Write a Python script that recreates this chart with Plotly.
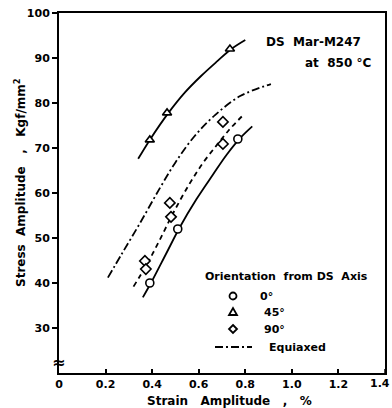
import plotly.graph_objects as go

# ---- data ----
# 0 deg (circles)
circ_strain = [0.39, 0.51, 0.768]
circ_stress = [40.0, 52.0, 72.0]
circ_fit_strain = [0.36, 0.40, 0.46, 0.52, 0.59, 0.66, 0.72, 0.78, 0.83]
circ_fit_stress = [36.8, 40.5, 46.5, 52.5, 58.6, 64.0, 68.5, 72.3, 74.8]

# 45 deg (triangles)
tri_strain = [0.39, 0.464, 0.734]
tri_stress = [71.8, 77.8, 92.0]
tri_fit_strain = [0.34, 0.39, 0.47, 0.54, 0.61, 0.68, 0.74, 0.80]
tri_fit_stress = [67.6, 71.8, 77.8, 82.3, 86.0, 89.3, 92.0, 94.0]

# 90 deg (diamonds)
dia_strain = [0.369, 0.373, 0.476, 0.481, 0.704, 0.704]
dia_stress = [44.9, 43.1, 57.8, 54.7, 75.8, 70.9]
dia_fit_strain = [0.32, 0.38, 0.43, 0.49, 0.56, 0.62, 0.68, 0.73, 0.785]
dia_fit_stress = [39.2, 44.4, 49.3, 55.5, 62.0, 66.8, 70.8, 74.0, 77.0]

# Equiaxed (dash-dot curve)
eq_strain = [0.21, 0.27, 0.35, 0.43, 0.50, 0.58, 0.67, 0.78, 0.91]
eq_stress = [41.2, 46.5, 53.5, 60.8, 66.8, 72.5, 77.3, 81.6, 84.2]

x_tickvals = [0, 0.2, 0.4, 0.6, 0.8, 1.0, 1.2]
x_ticktext = ["0", "0.2", "0.4", "0.6", "0.8", "1.0", "1.2"]
x_last_tick = 1.4
x_last_label = "1.4"
y_tickvals = [30, 40, 50, 60, 70, 80, 90, 100]
y_ticktext = ["30", "40", "50", "60", "70", "80", "90", "100"]

legend_labels = ["0°", "45°", "90°", "Equiaxed"]

# ---- figure ----
W, H = 392, 408
L, R, T, B = 59, 7, 13, 35
PW, PH = W - L - R, H - T - B

def px(xp):
    return (xp - L) / PW

def py(yp):
    return (H - B - yp) / PH

FONT = dict(family="DejaVu Sans", size=11, color="black", weight="bold")
FONT12 = dict(family="DejaVu Sans", size=12, color="black", weight="bold")
DASHDOT = "8px,3px,2px,3px"
NB = "\u00a0"

fig = go.Figure()

fig.add_trace(go.Scatter(x=eq_strain, y=eq_stress, mode="lines", line_shape="spline",
                         line=dict(color="black", width=1.8, dash=DASHDOT), showlegend=False))
fig.add_trace(go.Scatter(x=dia_fit_strain, y=dia_fit_stress, mode="lines", line_shape="spline",
                         line=dict(color="black", width=1.8, dash="5px,4px"), showlegend=False))
fig.add_trace(go.Scatter(x=circ_fit_strain, y=circ_fit_stress, mode="lines", line_shape="spline",
                         line=dict(color="black", width=1.8), showlegend=False))
fig.add_trace(go.Scatter(x=tri_fit_strain, y=tri_fit_stress, mode="lines", line_shape="spline",
                         line=dict(color="black", width=1.8), showlegend=False))

mk = dict(color="white", size=8, line=dict(color="black", width=1.6))
fig.add_trace(go.Scatter(x=circ_strain, y=circ_stress, mode="markers",
                         marker=dict(symbol="circle", **mk), showlegend=False))
fig.add_trace(go.Scatter(x=tri_strain, y=tri_stress, mode="markers",
                         marker=dict(symbol="triangle-up", **mk), showlegend=False))
fig.add_trace(go.Scatter(x=dia_strain, y=dia_stress, mode="markers",
                         marker=dict(symbol="diamond", **mk), showlegend=False))

annotations = [
    dict(text=f"DS{NB}{NB}Mar-M247", x=px(363), y=py(42), xanchor="right", yanchor="middle", font=FONT12),
    dict(text=f"at{NB}{NB}850{NB}°C", x=px(373), y=py(63), xanchor="right", yanchor="middle", font=FONT12),
    dict(text=f"Orientation{NB} from DS{NB} Axis", x=px(203), y=py(276), xanchor="left", yanchor="middle"),
    dict(text=legend_labels[0], x=px(258), y=py(296), xanchor="left", yanchor="middle"),
    dict(text=legend_labels[1], x=px(262), y=py(312), xanchor="left", yanchor="middle"),
    dict(text=legend_labels[2], x=px(262), y=py(329), xanchor="left", yanchor="middle"),
    dict(text=legend_labels[3], x=px(267), y=py(347), xanchor="left", yanchor="middle"),
    dict(text=f"Strain{NB}{NB}{NB}Amplitude{NB}{NB}{NB},{NB}{NB}{NB}%", x=px(229), y=py(401),
         xanchor="center", yanchor="middle", font=FONT12),
    dict(text=f"Stress{NB}{NB}Amplitude{NB}{NB}{NB},{NB}{NB}{NB}Kgf/mm<sup>2</sup>", x=px(20), y=py(183),
         xanchor="center", yanchor="middle", textangle=-90, font=FONT12),
    dict(text="≈", x=px(58), y=py(362), xanchor="center", yanchor="middle",
         font=dict(family="DejaVu Sans", size=16, color="black", weight="bold")),
    # last x tick label sits at the very right edge, as in the original
    dict(text=x_last_label, x=px(392), y=py(384), xanchor="right", yanchor="middle"),
]
for a in annotations:
    a.setdefault("font", FONT)
    a.update(xref="paper", yref="paper", showarrow=False)

# legend symbols
cx = 233
shapes = [
    dict(type="circle", x0=px(cx - 3.5), x1=px(cx + 3.5), y0=py(296 + 3.5), y1=py(296 - 3.5)),
    dict(type="path", path=f"M {px(cx-4)} {py(315)} L {px(cx+4)} {py(315)} L {px(cx)} {py(308)} Z"),
    dict(type="path", path=f"M {px(cx)} {py(325)} L {px(cx+4)} {py(329)} L {px(cx)} {py(333)} L {px(cx-4)} {py(329)} Z"),
    dict(type="line", x0=px(215), x1=px(252), y0=py(347), y1=py(347),
         line=dict(color="black", width=1.8, dash=DASHDOT)),
    # inside tick at the last x position
    dict(type="line", x0=x_last_tick, x1=x_last_tick, xref="x", y0=0, y1=4 / PH,
         line=dict(color="black", width=1.5)),
]
for s in shapes:
    s.setdefault("xref", "paper")
    s["yref"] = "paper"
    s.setdefault("line", dict(color="black", width=1.8))

axis_common = dict(showgrid=False, zeroline=False, showline=True, linecolor="black",
                   linewidth=2, mirror=True, tickcolor="black", tickwidth=1.5,
                   tickfont=FONT, automargin=False)

fig.update_layout(
    width=W, height=H, autosize=False,
    margin=dict(l=L, r=R, t=T, b=B, pad=0),
    paper_bgcolor="white", plot_bgcolor="white",
    showlegend=False,
    xaxis=dict(range=[0, 1.4], tickvals=x_tickvals, ticktext=x_ticktext,
               ticks="inside", ticklen=4, **axis_common),
    yaxis=dict(range=[20, 100], tickvals=y_tickvals, ticktext=y_ticktext,
               ticks="outside", ticklen=5, **axis_common),
    annotations=annotations,
    shapes=shapes,
)

fig.write_html("out.html", config={"displayModeBar": False},
               post_script="document.body.style.margin='0';document.body.style.overflow='hidden';")
